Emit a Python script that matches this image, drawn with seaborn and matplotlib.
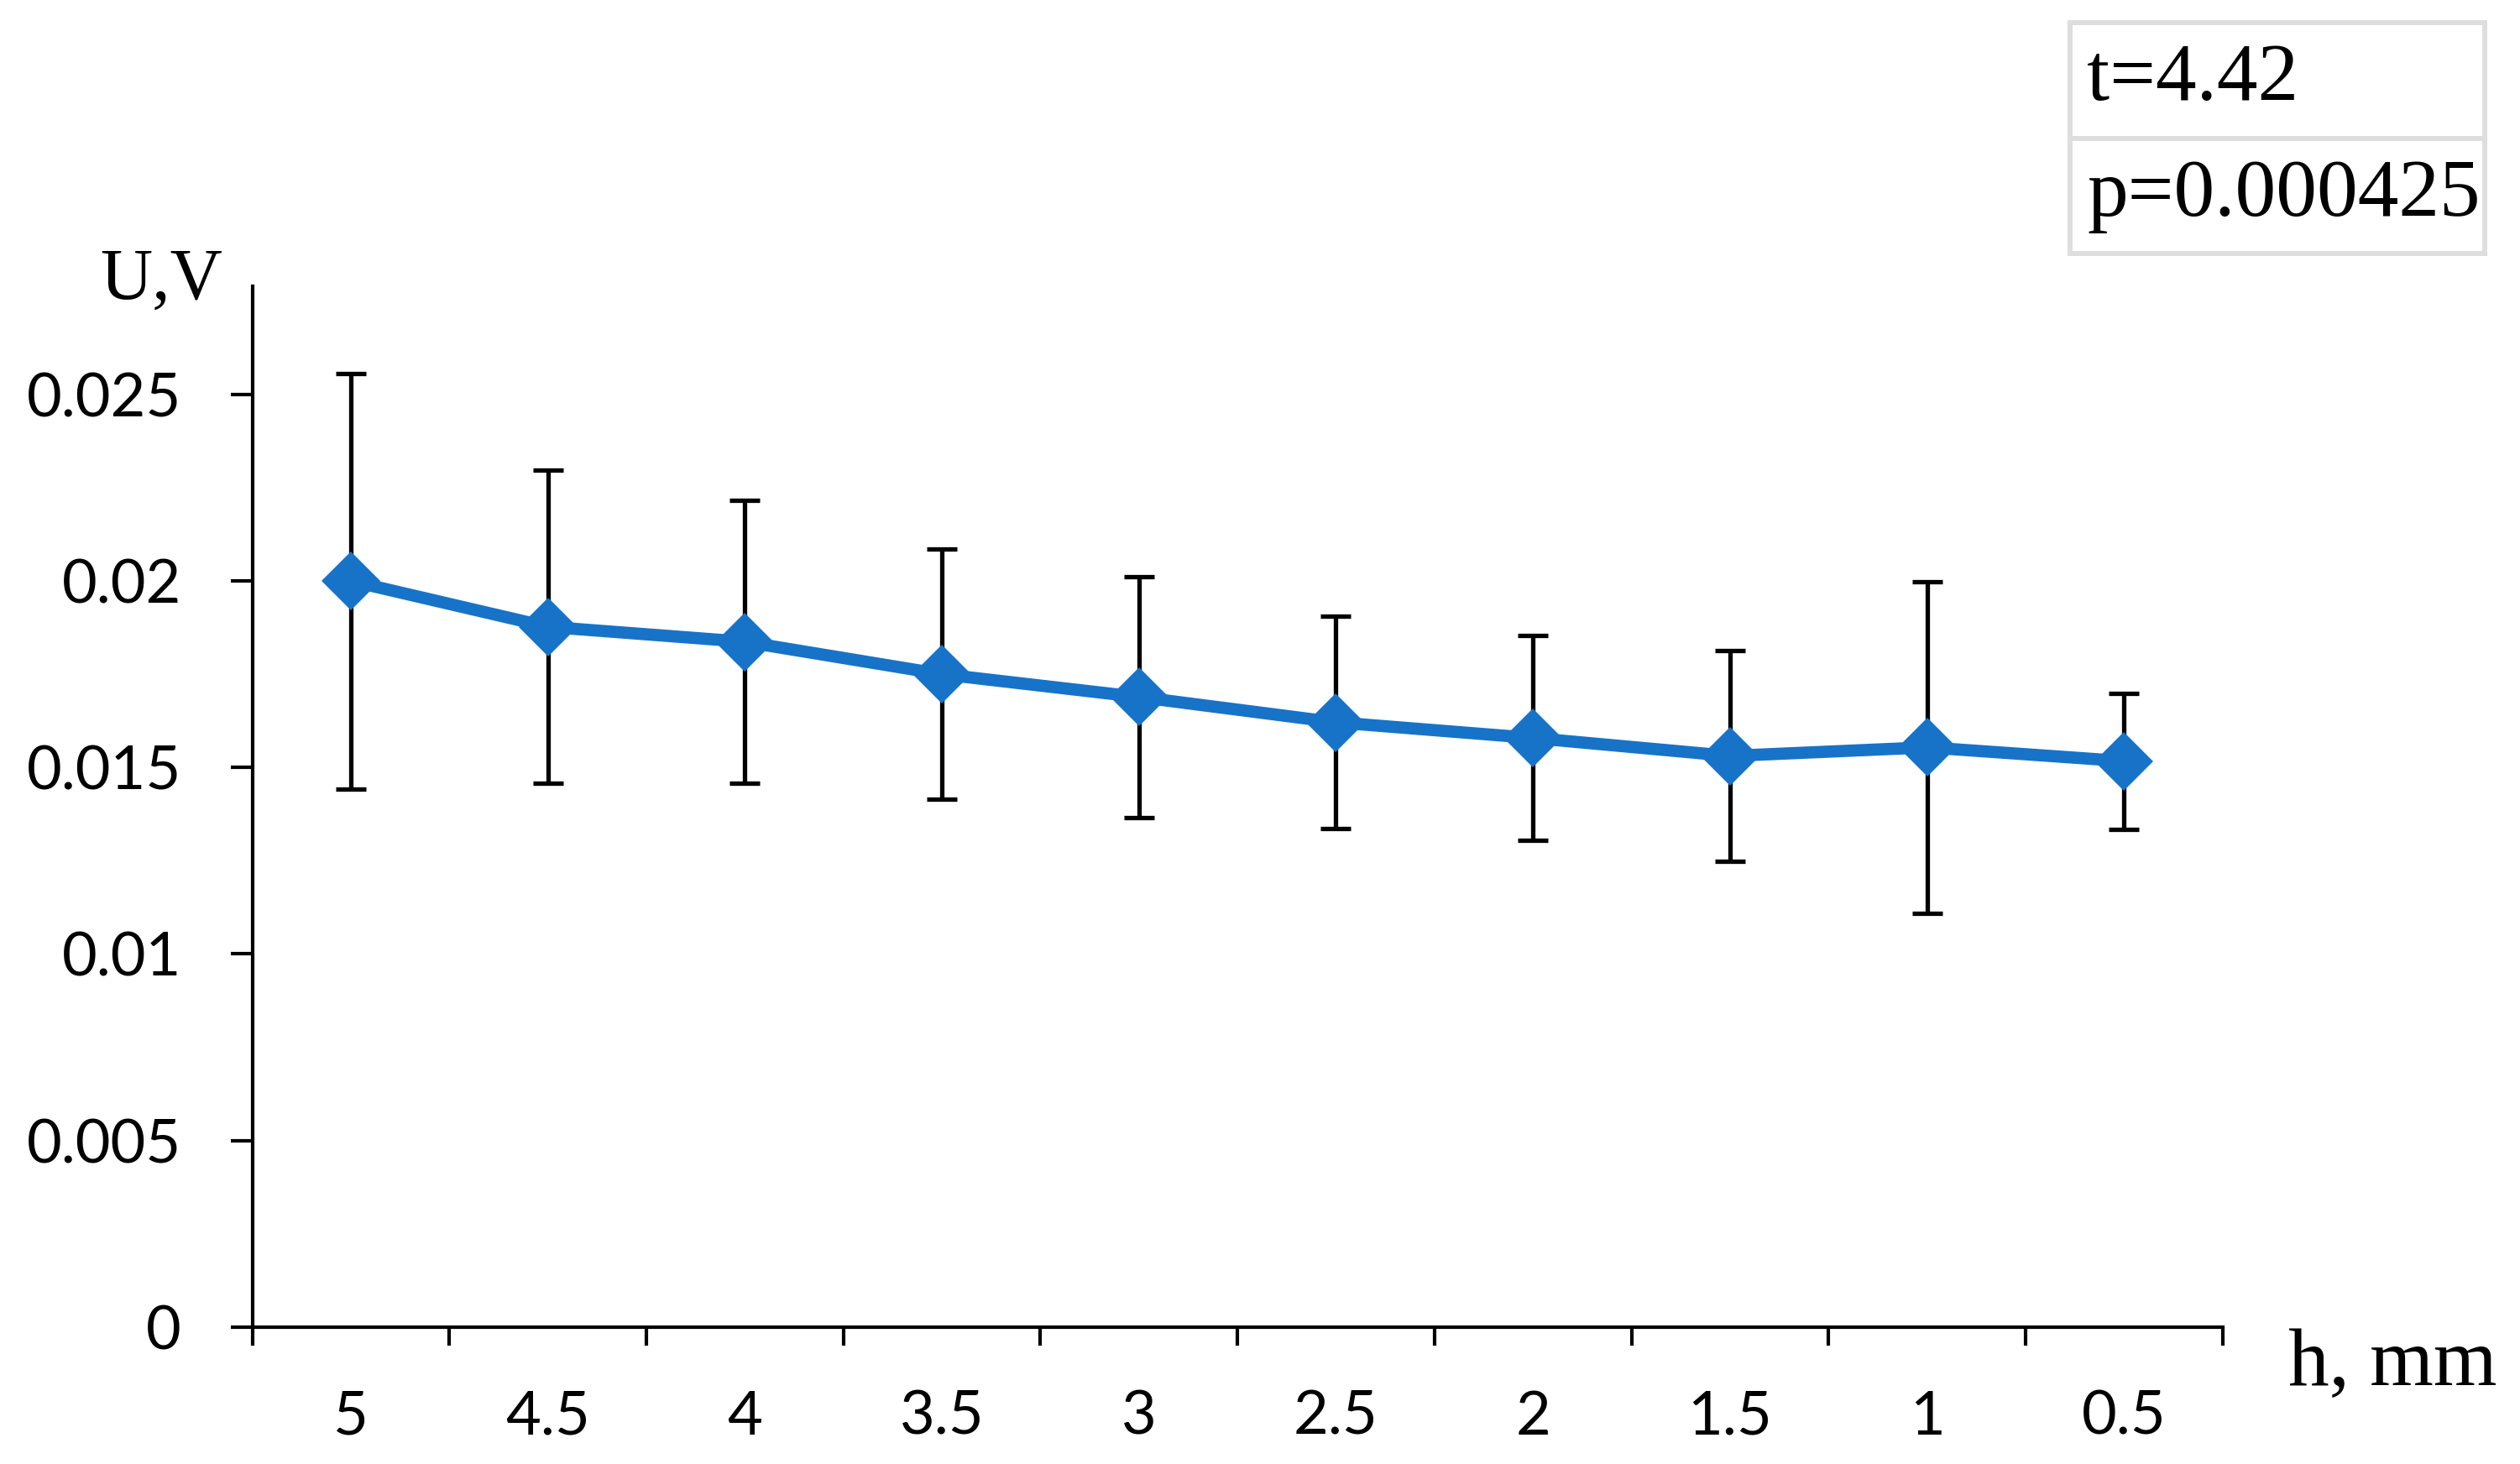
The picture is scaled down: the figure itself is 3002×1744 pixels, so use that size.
import matplotlib

matplotlib.use("Agg")
import numpy as np
import pandas as pd
import seaborn as sns
import matplotlib.pyplot as plt

# values
h_labels = ["5", "4.5", "4", "3.5", "3", "2.5", "2", "1.5", "1", "0.5"]
u_mean = [0.0200, 0.01877, 0.01837, 0.0175, 0.01689, 0.01621, 0.01579, 0.01531, 0.01554, 0.01517]
u_err = [0.00557, 0.0042, 0.0038, 0.00336, 0.00323, 0.00285, 0.00275, 0.00282, 0.00444, 0.00182]
y_ticks = [0, 0.005, 0.01, 0.015, 0.02, 0.025]
y_tick_labels = ["0", "0.005", "0.01", "0.015", "0.02", "0.025"]
t_stat = "4.42"
p_value = "0.000425"

sns.set_style("ticks")
plt.rcParams["font.family"] = ["Lato", "DejaVu Sans"]
for key in ["text.color", "axes.labelcolor", "xtick.color", "ytick.color", "axes.edgecolor"]:
    plt.rcParams[key] = "black"

df = pd.DataFrame({"pos": np.arange(len(h_labels)), "U": u_mean, "err": u_err})

fig = plt.figure(figsize=(30.02, 17.44), dpi=100)
ax = fig.add_axes([0.1001, 0.0935, 0.7819, 0.711])

# error bars under the line
ax.errorbar(df["pos"], df["U"], yerr=df["err"], fmt="none", ecolor="black",
            elinewidth=3.8, capsize=13, capthick=3.8, zorder=2)
sns.lineplot(data=df, x="pos", y="U", color="#1773C8", linewidth=10.5,
             marker="D", markersize=36, markeredgewidth=0, errorbar=None,
             ax=ax, zorder=3)

ax.set_xlim(-0.5, len(h_labels) - 0.5)
ax.set_ylim(0, 0.0279)
for side in ["top", "right"]:
    ax.spines[side].set_visible(False)
for side in ["left", "bottom"]:
    ax.spines[side].set_linewidth(3)

# category boundaries get the tick marks, centres get the labels
ax.set_xticks(np.arange(len(h_labels) + 1) - 0.5)
ax.set_xticklabels([])
ax.set_xticks(np.arange(len(h_labels)), minor=True)
ax.set_xticklabels(h_labels, minor=True)
ax.tick_params(axis="x", which="major", direction="out", length=16, width=3)
ax.tick_params(axis="x", which="minor", length=0, pad=54, labelsize=52)
ax.set_yticks(y_ticks, y_tick_labels)
ax.tick_params(axis="y", direction="out", length=19, width=3, labelsize=52, pad=42)

ax.set_xlabel("h, mm", family="Liberation Serif", fontsize=70, ha="left", va="baseline")
ax.xaxis.set_label_coords(1.0332, -0.0556)
ax.set_ylabel("U,V", family="Liberation Serif", fontsize=62, rotation=0, ha="left", va="baseline")
ax.yaxis.set_label_coords(-0.0774, 0.988)

# t-test box
tax = fig.add_axes([0.8215, 0.8268, 0.1645, 0.1577])
tax.axis("off")
tbl = tax.table(cellText=[[f"t={t_stat}"], [f"p={p_value}"]], cellLoc="left", bbox=[0, 0, 1, 1])
tbl.auto_set_font_size(False)
tbl.set_fontsize(70)
for cell in tbl.get_celld().values():
    cell.set_edgecolor("#DEDEDE")
    cell.set_linewidth(4.3)
    cell.PAD = 0.04
    cell.get_text().set_fontfamily("Liberation Serif")

plt.savefig("out.png", dpi=100)
